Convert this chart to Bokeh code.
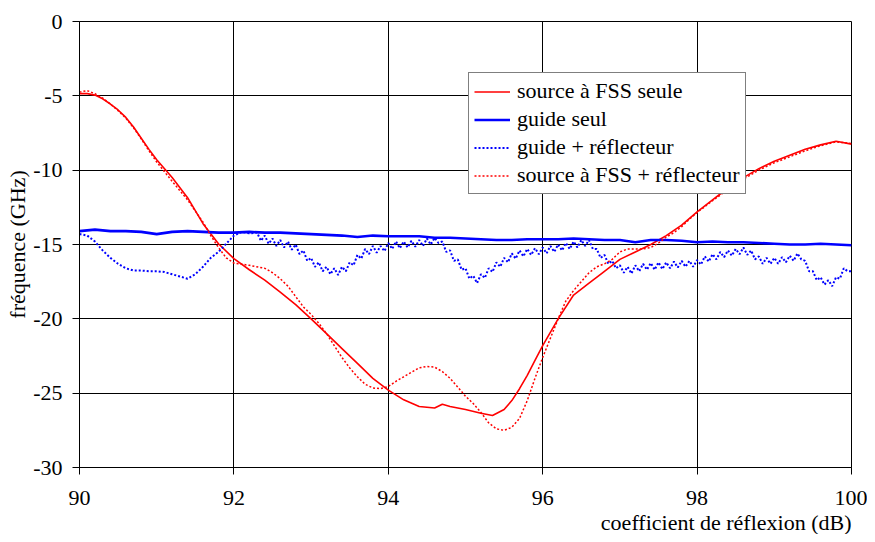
from bokeh.plotting import figure
from bokeh.models import Range1d, FixedTicker, Legend, LegendItem, Title
from bokeh.embed import file_html
from bokeh.resources import INLINE

# ---------------- data ----------------
x_ticks = [90, 92, 94, 96, 98, 100]
x_tick_labels = ["90", "92", "94", "96", "98", "100"]
y_ticks = [-30, -25, -20, -15, -10, -5, 0]
y_tick_labels = ["-30", "-25", "-20", "-15", "-10", "-5", "0"]

labels = ["source à FSS seule", "guide seul", "guide + réflecteur", "source à FSS + réflecteur"]

fss_x = [90.0, 90.1, 90.2, 90.3, 90.4, 90.5, 90.6, 90.7, 90.8, 90.9, 91.0, 91.2, 91.4, 91.6, 91.8,
         92.0, 92.2, 92.4, 92.6, 92.8, 93.0, 93.2, 93.4, 93.6, 93.8, 94.0, 94.2, 94.4, 94.6, 94.7,
         94.8, 95.0, 95.2, 95.35, 95.5, 95.6, 95.7, 95.8, 95.9, 96.0, 96.2, 96.4, 96.6, 96.8, 97.0,
         97.2, 97.4, 97.6, 97.8, 98.0, 98.2, 98.4, 98.6, 98.8, 99.0, 99.2, 99.4, 99.6, 99.8, 100.0]
fss_y = [-4.85, -4.85, -4.95, -5.2, -5.55, -5.95, -6.45, -7.1, -7.85, -8.6, -9.3, -10.5, -11.85, -13.6, -14.95,
         -15.95, -16.7, -17.4, -18.2, -19.05, -20.0, -21.0, -22.0, -23.0, -24.0, -24.8, -25.45, -25.9, -26.0, -25.75,
         -25.9, -26.1, -26.35, -26.5, -26.1, -25.5, -24.7, -23.8, -22.8, -21.8, -20.0, -18.4, -17.6, -16.8, -16.0,
         -15.5, -15.0, -14.4, -13.7, -12.8, -12.0, -11.2, -10.5, -9.9, -9.4, -9.0, -8.6, -8.3, -8.05, -8.25]

guide_x = [90.0, 90.2, 90.4, 90.6, 90.8, 91.0, 91.2, 91.4, 91.6, 91.8, 92.0, 92.2, 92.4, 92.6, 92.8,
           93.0, 93.2, 93.4, 93.6, 93.8, 94.0, 94.2, 94.4, 94.6, 94.8, 95.0, 95.2, 95.4, 95.6, 95.8,
           96.0, 96.2, 96.4, 96.6, 96.8, 97.0, 97.2, 97.4, 97.6, 97.8, 98.0, 98.2, 98.4, 98.6, 98.8,
           99.0, 99.2, 99.4, 99.6, 99.8, 100.0]
guide_y = [-14.1, -14.0, -14.1, -14.1, -14.15, -14.3, -14.15, -14.1, -14.15, -14.2, -14.2, -14.15, -14.2, -14.2, -14.25,
           -14.3, -14.35, -14.4, -14.5, -14.4, -14.45, -14.45, -14.45, -14.55, -14.55, -14.6, -14.65, -14.7, -14.7, -14.65,
           -14.65, -14.65, -14.6, -14.65, -14.7, -14.7, -14.85, -14.7, -14.7, -14.75, -14.85, -14.8, -14.85, -14.85, -14.9,
           -14.95, -15.0, -15.0, -14.95, -15.0, -15.05]

guide_refl_x = [90.0, 90.1, 90.2, 90.3, 90.4, 90.5, 90.6, 90.7, 90.8, 90.9, 91.0, 91.1, 91.2, 91.3, 91.4,
                91.5, 91.6, 91.7, 91.8, 91.9, 92.0, 92.1, 92.2,
                92.3, 92.35, 92.4, 92.45, 92.5, 92.55, 92.6, 92.65, 92.7, 92.75, 92.8, 92.85, 92.9, 92.95,
                93.0, 93.05, 93.1, 93.15, 93.2, 93.25, 93.3, 93.35, 93.4, 93.45, 93.5, 93.55, 93.6, 93.65,
                93.7, 93.75, 93.8, 93.85, 93.9, 93.95, 94.0, 94.05, 94.1, 94.15, 94.2, 94.25, 94.3, 94.35,
                94.4, 94.45, 94.5, 94.55, 94.6, 94.65, 94.7, 94.75, 94.8, 94.85, 94.9, 94.95, 95.0, 95.05,
                95.1, 95.15, 95.2, 95.25, 95.3, 95.35, 95.4, 95.45, 95.5, 95.55, 95.6, 95.65, 95.7, 95.75,
                95.8, 95.85, 95.9, 95.95, 96.0, 96.05, 96.1, 96.15, 96.2, 96.25, 96.3, 96.35, 96.4, 96.45,
                96.5, 96.55, 96.6, 96.65, 96.7, 96.75, 96.8, 96.85, 96.9, 96.95, 97.0, 97.05, 97.1, 97.15,
                97.2, 97.25, 97.3, 97.35, 97.4, 97.45, 97.5, 97.55, 97.6, 97.65, 97.7, 97.75, 97.8, 97.85,
                97.9, 97.95, 98.0, 98.05, 98.1, 98.15, 98.2, 98.25, 98.3, 98.35, 98.4, 98.45, 98.5, 98.55,
                98.6, 98.65, 98.7, 98.75, 98.8, 98.85, 98.9, 98.95, 99.0, 99.05, 99.1, 99.15, 99.2, 99.25,
                99.3, 99.35, 99.4, 99.45, 99.5, 99.55, 99.6, 99.65, 99.7, 99.75, 99.8, 99.85, 99.9, 99.95,
                100.0]
guide_refl_y = [-14.3, -14.4, -14.8, -15.4, -15.9, -16.3, -16.6, -16.75, -16.75, -16.8, -16.8, -16.85, -17.0, -17.15, -17.3,
                -17.0, -16.5, -15.9, -15.5, -14.95, -14.4, -14.15, -14.25,
                -14.2, -14.75, -14.4, -14.95, -14.6, -15.1, -14.7, -15.2, -14.8, -15.35, -15.0, -15.65, -15.4, -16.1,
                -15.9, -16.5, -16.2, -16.8, -16.5, -17.0, -16.6, -17.05, -16.5, -16.8, -16.2, -16.4, -15.7, -15.95,
                -15.3, -15.65, -15.1, -15.55, -15.1, -15.45, -14.9, -15.3, -14.8, -15.25, -14.8, -15.2, -14.75, -15.15,
                -14.7, -15.1, -14.6, -15.0, -14.55, -14.9, -14.8, -15.5, -15.4, -16.1, -16.0, -16.7, -16.6, -17.3,
                -17.1, -17.6, -17.0, -17.25, -16.6, -16.85, -16.2, -16.5, -15.9, -16.2, -15.6, -15.95, -15.4, -15.8,
                -15.3, -15.7, -15.25, -15.65, -15.2, -15.6, -15.1, -15.5, -15.0, -15.4, -14.9, -15.3, -14.8, -15.2,
                -14.7, -15.1, -14.7, -15.3, -15.3, -15.9, -15.7, -16.3, -16.1, -16.6, -16.4, -16.9, -16.5, -16.95,
                -16.4, -16.8, -16.3, -16.7, -16.25, -16.7, -16.2, -16.65, -16.2, -16.6, -16.15, -16.55, -16.1, -16.5,
                -16.1, -16.5, -16.05, -16.35, -15.8, -16.15, -15.65, -16.0, -15.5, -15.85, -15.4, -15.75, -15.3, -15.65,
                -15.2, -15.7, -15.4, -16.0, -15.8, -16.3, -15.9, -16.3, -15.9, -16.3, -15.85, -16.2, -15.75, -16.1,
                -15.6, -16.0, -16.1, -16.8, -16.8, -17.4, -17.2, -17.7, -17.4, -17.8, -17.2, -17.3, -16.6, -16.8,
                -16.8]

fss_refl_x = [90.0, 90.1, 90.2, 90.3, 90.4, 90.5, 90.6, 90.7, 90.8, 90.9, 91.0, 91.2, 91.4, 91.6, 91.7,
              91.8, 91.9, 92.0, 92.2, 92.4, 92.5, 92.6, 92.7, 92.8, 92.9, 93.0, 93.1, 93.2, 93.3, 93.4,
              93.5, 93.6, 93.7, 93.8, 93.9, 94.0, 94.1, 94.2, 94.3, 94.4, 94.5, 94.6, 94.7, 94.8, 94.9,
              95.0, 95.1, 95.2, 95.3, 95.4, 95.5, 95.6, 95.7, 95.8, 95.9, 96.0, 96.1, 96.2, 96.3, 96.4,
              96.5, 96.6, 96.7, 96.8, 96.9, 97.0, 97.1, 97.2, 97.3, 97.4, 97.5, 97.6, 97.7, 97.8, 97.9,
              98.0, 98.2, 98.4, 98.6, 98.8, 99.0, 99.2, 99.4, 99.6, 99.8, 100.0]
fss_refl_y = [-4.75, -4.65, -4.85, -5.15, -5.55, -6.0, -6.5, -7.15, -7.9, -8.7, -9.45, -10.75, -12.0, -13.5, -14.4,
              -15.2, -15.9, -16.25, -16.4, -16.6, -16.9, -17.3, -17.8, -18.5, -19.2, -19.7, -20.3, -21.0, -21.8, -22.6,
              -23.3, -23.9, -24.4, -24.65, -24.7, -24.55, -24.2, -23.9, -23.6, -23.3, -23.2, -23.25, -23.55, -24.0, -24.6,
              -25.2, -25.7, -26.3, -27.0, -27.4, -27.5, -27.3, -26.7, -25.5, -24.0, -22.6, -21.3, -20.0, -18.8, -18.1,
              -17.5, -16.9, -16.5, -16.3, -16.0, -15.5, -15.3, -15.3, -15.3, -15.2, -14.9, -14.5, -14.2, -13.8, -13.3,
              -12.85, -12.05, -11.3, -10.6, -10.0, -9.5, -9.1, -8.7, -8.35, -8.1, -8.2]

# ---------------- figure ----------------
FONT = "Liberation Serif"
W, H = 867, 534
FL, FR, FT, FB = 79, 851, 21, 467

p = figure(width=W, height=H, output_backend="svg", toolbar_location=None,
           x_range=Range1d(90, 100), y_range=Range1d(-30, 0),
           min_border_left=FL, min_border_right=W - FR,
           min_border_top=FT, min_border_bottom=H - FB)
p.background_fill_color = "white"
p.border_fill_color = "white"
p.outline_line_color = "black"
p.outline_line_width = 1

for ax in (p.xaxis, p.yaxis):
    ax.major_label_text_font = FONT
    ax.major_label_text_font_size = "22px"
    ax.major_label_text_color = "black"
    ax.axis_line_color = "black"
    ax.axis_line_width = 1
    ax.major_tick_line_color = "black"
    ax.major_tick_out = 7
    ax.major_tick_in = 0
    ax.minor_tick_out = 0
    ax.minor_tick_in = 0

p.xaxis.ticker = FixedTicker(ticks=x_ticks)
p.yaxis.ticker = FixedTicker(ticks=y_ticks)
p.xaxis.major_label_overrides = {t: s for t, s in zip(x_ticks, x_tick_labels)}
p.yaxis.major_label_overrides = {t: s for t, s in zip(y_ticks, y_tick_labels)}
p.xaxis.major_label_standoff = 16
p.yaxis.major_label_standoff = 10

p.yaxis.axis_label = "fréquence (GHz)"
p.yaxis.axis_label_text_font = FONT
p.yaxis.axis_label_text_font_size = "22px"
p.yaxis.axis_label_text_font_style = "normal"
p.yaxis.axis_label_text_color = "black"
p.yaxis.axis_label_standoff = 0

p.xgrid.ticker = FixedTicker(ticks=x_ticks)
p.ygrid.ticker = FixedTicker(ticks=y_ticks)
for g in (p.xgrid, p.ygrid):
    g.grid_line_color = "black"
    g.grid_line_width = 1
    g.grid_line_alpha = 1.0

xt = Title(text="coefficient de réflexion (dB)", align="right", text_font=FONT,
           text_font_size="22px", text_font_style="normal", text_color="black",
           standoff=0, offset=0)
p.add_layout(xt, "below")

r_fss = p.line(fss_x, fss_y, line_color="#ff0000", line_width=1.6)
r_guide = p.line(guide_x, guide_y, line_color="#0000ff", line_width=2.6)
r_guide_refl = p.line(guide_refl_x, guide_refl_y, line_color="#0000ff", line_width=2,
                      line_dash="2 2")
r_fss_refl = p.line(fss_refl_x, fss_refl_y, line_color="#ff0000", line_width=1.5,
                    line_dash="2 2")

legend = Legend(items=[LegendItem(label=labels[0], renderers=[r_fss]),
                       LegendItem(label=labels[1], renderers=[r_guide]),
                       LegendItem(label=labels[2], renderers=[r_guide_refl]),
                       LegendItem(label=labels[3], renderers=[r_fss_refl])],
                location=(389, 273))
legend.label_text_font = FONT
legend.label_text_font_size = "22px"
legend.label_text_color = "black"
legend.border_line_color = "black"
legend.border_line_width = 1
legend.background_fill_color = "white"
legend.background_fill_alpha = 1.0
legend.padding = 5
legend.spacing = 2
legend.margin = 0
legend.glyph_width = 36
legend.glyph_height = 25
legend.label_height = 25
legend.label_standoff = 7
p.add_layout(legend)

open("out.html", "w").write(file_html(p, INLINE))
